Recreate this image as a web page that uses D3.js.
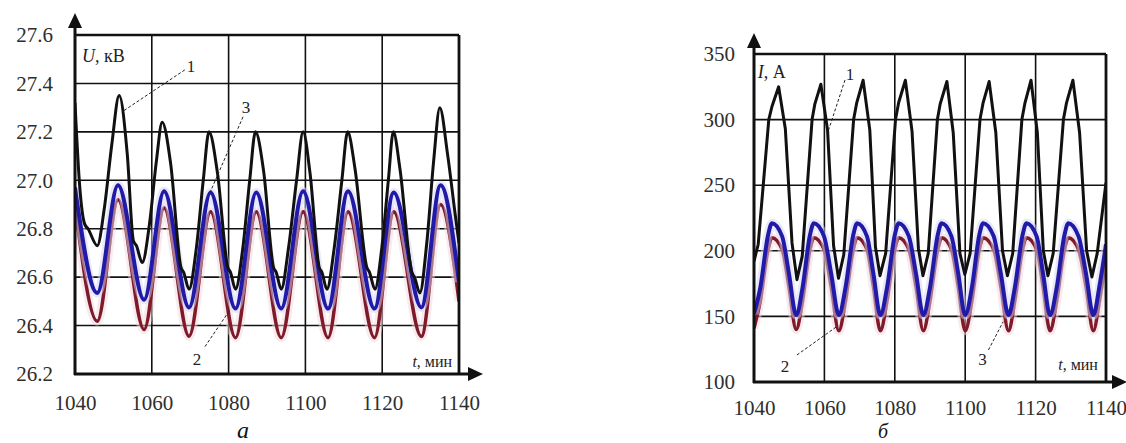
<!DOCTYPE html>
<html>
<head>
<meta charset="utf-8">
<script src="https://cdn.jsdelivr.net/npm/d3@7"></script>
<style>
body { margin: 0; background: #fff; }
svg { display: block; }
svg text { font-family: "Liberation Serif", "Times New Roman", serif; }
</style>
</head>
<body>
<svg id="chart" width="1126" height="443"></svg>
<script>
// tick values
var timeTicks = [1040, 1060, 1080, 1100, 1120, 1140]
var voltageTicks = [26.2, 26.4, 26.6, 26.8, 27.0, 27.2, 27.4, 27.6]
var currentTicks = [100, 150, 200, 250, 300, 350]

// voltage U, kV (left) - curve 1 black
var voltageBlack = [
  [1040, 27.32], [1041.2, 26.98], [1042.5, 26.82], [1043.4, 26.80], [1045.8, 26.73],
  [1047.6, 26.88], [1049.6, 27.15], [1051.5, 27.35], [1053.6, 27.11], [1055.2, 26.75],
  [1056, 26.73], [1057.5, 26.66], [1059.4, 26.82], [1061.2, 27.08], [1062.7, 27.24],
  [1064.9, 27.07], [1067.6, 26.64], [1068.3, 26.62], [1069.7, 26.55], [1071.6, 26.72],
  [1073.4, 27.0], [1074.9, 27.2], [1077.1, 27.03], [1079.8, 26.64], [1080.5, 26.62],
  [1081.8, 26.55], [1083.7, 26.72], [1085.5, 27.0], [1087, 27.2], [1089.1, 27.04],
  [1091.7, 26.64], [1092.4, 26.62], [1093.7, 26.55], [1095.6, 26.72], [1097.7, 27.0],
  [1099.4, 27.2], [1101.2, 27.03], [1103.6, 26.64], [1104.3, 26.62], [1105.6, 26.55],
  [1107.5, 26.72], [1109.5, 27.0], [1111, 27.2], [1112.9, 27.05], [1116, 26.64],
  [1116.7, 26.62], [1118.1, 26.55], [1119.9, 26.72], [1121.6, 27.0], [1122.9, 27.2],
  [1124.6, 27.05], [1127.7, 26.62], [1128.4, 26.6], [1129.8, 26.535], [1131.6, 26.74],
  [1133.4, 27.08], [1135, 27.3], [1137, 27.11], [1139, 26.86], [1140, 26.74]
]
// blue curve
var voltageBlue = [
  [1040, 26.97], [1045.8, 26.535], [1051.2, 26.98], [1058, 26.507], [1063.2, 26.955],
  [1069.7, 26.475], [1075.3, 26.95], [1081.8, 26.47], [1087.2, 26.95], [1093.7, 26.47],
  [1099.4, 26.955], [1105.9, 26.47], [1111.1, 26.955], [1118, 26.47], [1123, 26.95],
  [1130.2, 26.475], [1135.2, 26.98], [1140, 26.58]
]
// dark red curve
var voltageRed = [
  [1040, 26.9], [1045.8, 26.418], [1051.2, 26.92], [1058, 26.384], [1063.2, 26.886],
  [1069.7, 26.356], [1075.3, 26.87], [1081.8, 26.35], [1087.2, 26.87], [1093.7, 26.35],
  [1099.4, 26.87], [1105.9, 26.35], [1111.1, 26.87], [1118, 26.35], [1123, 26.87],
  [1130.2, 26.355], [1135.2, 26.9], [1140, 26.5]
]

// current I, A (right) - curve 1 black
var currentBlack = [
  [1040, 192], [1041.2, 205], [1044.2, 300], [1045.1, 310], [1047, 325],
  [1048.9, 293], [1050.8, 206], [1052.2, 178], [1053.7, 196], [1056.5, 300],
  [1057.3, 312], [1059, 327], [1060.9, 292], [1062.6, 204], [1064, 179],
  [1065.5, 197], [1068.3, 300], [1069.2, 313], [1071, 330], [1072.9, 292],
  [1074.5, 203], [1075.8, 181], [1077.4, 198], [1080.2, 300], [1081.1, 313],
  [1083, 330], [1084.9, 291], [1086.7, 202], [1088, 181], [1089.5, 198],
  [1092.1, 300], [1092.9, 312], [1094.8, 329], [1096.6, 290], [1098.5, 198],
  [1099.9, 182], [1101.4, 198], [1104.2, 300], [1105.1, 313], [1106.8, 329],
  [1108.7, 290], [1110.6, 200], [1112, 181], [1113.5, 198], [1116.1, 300],
  [1117, 313], [1118.7, 330], [1120.5, 290], [1122.2, 200], [1123.5, 181],
  [1125, 198], [1127.9, 300], [1128.8, 313], [1130.6, 330], [1132.5, 290],
  [1134.5, 200], [1136, 180], [1137.5, 198], [1140, 252]
]
var currentBlue = [
  [1040, 152], [1041.8, 172], [1044, 212], [1045.1, 221], [1048, 211], [1049.9, 183],
  [1052, 151], [1053.8, 172], [1055.9, 212], [1057, 221], [1059.9, 211], [1061.9, 183],
  [1064.1, 151], [1066, 172], [1068.2, 212], [1069.3, 221], [1072.1, 211], [1073.9, 183],
  [1075.9, 151], [1077.8, 172], [1080, 212], [1081.1, 221], [1084, 211], [1086, 183],
  [1088.1, 151], [1090, 172], [1092.2, 212], [1093.3, 221], [1096.1, 211], [1098, 183],
  [1100, 151], [1101.9, 172], [1104, 212], [1105.1, 221], [1108.1, 211], [1110.1, 183],
  [1112.3, 151], [1114.1, 172], [1116.3, 212], [1117.4, 221], [1120.3, 211], [1122.1, 183],
  [1124.1, 151], [1126, 172], [1128.2, 212], [1129.3, 221], [1132.2, 211], [1134.3, 183],
  [1136.4, 151], [1138.2, 174], [1140, 205]
]
var currentRed = [
  [1040, 141], [1041.8, 162], [1044, 201], [1045.1, 210], [1048, 201], [1049.9, 173],
  [1052, 140], [1053.8, 162], [1055.9, 201], [1057, 210], [1059.9, 201], [1061.9, 173],
  [1064.1, 139], [1066, 162], [1068.2, 201], [1069.3, 210], [1072.1, 201], [1073.9, 173],
  [1075.9, 139], [1077.8, 162], [1080, 201], [1081.1, 210], [1084, 201], [1086, 173],
  [1088.1, 139], [1090, 162], [1092.2, 201], [1093.3, 210], [1096.1, 201], [1098, 173],
  [1100, 139], [1101.9, 162], [1104, 201], [1105.1, 210], [1108.1, 201], [1110.1, 173],
  [1112.3, 139], [1114.1, 162], [1116.3, 201], [1117.4, 210], [1120.3, 201], [1122.1, 173],
  [1124.1, 139], [1126, 162], [1128.2, 201], [1129.3, 210], [1132.2, 201], [1134.3, 173],
  [1136.4, 139], [1138.2, 163], [1140, 194]
]

var svg = d3.select("#chart")
svg.append("rect").attr("width", 1126).attr("height", 443).attr("fill", "#fff")

function drawPanel(o) {
    var x = d3.scaleLinear().domain([1040, 1140]).range(o.xRange)
    var y = d3.scaleLinear().domain(o.yDomain).range(o.yRange)
    var g = svg.append("g")
    var x0 = o.xRange[0], x1 = o.xRange[1], y0 = o.yRange[0], y1 = o.yRange[1]

    g.append("clipPath").attr("id", o.id + "-clip")
     .append("rect").attr("x", x0).attr("y", y1).attr("width", x1 - x0).attr("height", y0 - y1)

    // grid
    g.selectAll(".vgrid").data(timeTicks.slice(1, -1)).join("line")
     .attr("x1", d => x(d)).attr("x2", d => x(d))
     .attr("y1", y0).attr("y2", y1)
     .attr("stroke", "#111").attr("stroke-width", 1.6)
    g.selectAll(".hgrid").data(o.yTicks.slice(1, -1)).join("line")
     .attr("x1", x0).attr("x2", x1)
     .attr("y1", d => y(d)).attr("y2", d => y(d))
     .attr("stroke", "#111").attr("stroke-width", 1.6)

    // curves
    var lines = g.append("g").attr("clip-path", "url(#" + o.id + "-clip)")
    o.series.forEach(function(s) {
        var lineGen = d3.line()
            .x(d => x(d[0]))
            .y(d => y(d[1]))
            .curve(s.curve)
        if (s.halo) {
            lines.append("path").attr("d", lineGen(s.data))
                .attr("fill", "none").attr("stroke", s.halo)
                .attr("stroke-width", 9).attr("opacity", 0.5)
        }
        lines.append("path").attr("d", lineGen(s.data))
            .attr("fill", "none").attr("stroke", s.color)
            .attr("stroke-width", s.width).attr("stroke-linejoin", "round")
    })

    // frame and axes with arrows
    g.append("line").attr("x1", x0).attr("x2", x1).attr("y1", y1).attr("y2", y1)
     .attr("stroke", "#111").attr("stroke-width", 2.6)
    g.append("line").attr("x1", x1).attr("x2", x1).attr("y1", y1).attr("y2", y0)
     .attr("stroke", "#111").attr("stroke-width", 2.8)
    g.append("line").attr("x1", x0).attr("x2", x0).attr("y1", y0 + 1).attr("y2", o.arrowTop + 10)
     .attr("stroke", "#111").attr("stroke-width", 3)
    g.append("line").attr("x1", x0 - 1).attr("x2", o.arrowRight - 10).attr("y1", y0).attr("y2", y0)
     .attr("stroke", "#111").attr("stroke-width", 3)
    g.append("path")
     .attr("d", `M${x0},${o.arrowTop} L${x0 - 7},${o.arrowTop + 15} L${x0 + 7},${o.arrowTop + 15} Z`)
     .attr("fill", "#111")
    g.append("path")
     .attr("d", `M${o.arrowRight},${y0} L${o.arrowRight - 15},${y0 - 7} L${o.arrowRight - 15},${y0 + 7} Z`)
     .attr("fill", "#111")

    // tick labels
    var yAxis = g.append("g")
        .attr("transform", `translate(${x0},0)`)
        .call(d3.axisLeft(y).tickValues(o.yTicks).tickFormat(o.yFormat).tickSize(0).tickPadding(o.yPad))
    var xAxis = g.append("g")
        .attr("transform", `translate(0,${y0})`)
        .call(d3.axisBottom(x).tickValues(timeTicks).tickFormat(d3.format("d")).tickSize(0).tickPadding(o.xPad))
    ;[yAxis, xAxis].forEach(function(a) {
        a.select(".domain").remove()
        a.attr("font-family", null).attr("font-size", null)
        a.selectAll("text").style("font-size", "21px").attr("fill", "#2e2e2e")
    })

    // axis titles
    var yt = g.append("text").attr("x", x(o.yTitle[0])).attr("y", y(o.yTitle[1]))
        .style("font-size", "18px").attr("fill", "#222")
    yt.append("tspan").attr("font-style", "italic").text(o.yTitle[2])
    yt.append("tspan").text(o.yTitle[3])

    var xt = g.append("text").attr("x", x(o.xTitle[0])).attr("y", y(o.xTitle[1]))
        .style("font-size", "16px").attr("fill", "#222").attr("text-anchor", "end")
    xt.append("tspan").attr("font-style", "italic").text("t")
    xt.append("tspan").text(", мин")

    // curve numbers with dashed leaders
    o.notes.forEach(function(n) {
        g.append("line")
         .attr("x1", x(n.from[0])).attr("y1", y(n.from[1]))
         .attr("x2", x(n.to[0])).attr("y2", y(n.to[1]))
         .attr("stroke", "#222").attr("stroke-width", 1).attr("stroke-dasharray", "3,2")
        g.append("text").attr("x", x(n.at[0])).attr("y", y(n.at[1]))
         .attr("text-anchor", "middle").style("font-size", "17px").attr("fill", "#222")
         .text(n.label)
    })

    g.append("text").attr("x", o.caption[0]).attr("y", o.caption[1])
     .attr("text-anchor", "middle").style("font-size", o.caption[3] + "px").attr("font-style", "italic")
     .attr("fill", "#111").text(o.caption[2])
}

drawPanel({
    id: "u",
    xRange: [75, 459],
    yRange: [374, 35],
    yDomain: [26.2, 27.6],
    yTicks: voltageTicks,
    yFormat: d3.format(".1f"),
    yPad: 22,
    xPad: 21,
    arrowTop: 13,
    arrowRight: 483,
    series: [
        { data: voltageRed, color: "#7e1a2a", width: 3.5, halo: "#f2d6dc", curve: d3.curveMonotoneX },
        { data: voltageBlue, color: "#2119a8", width: 4, halo: "#d4d6f4", curve: d3.curveMonotoneX },
        { data: voltageBlack, color: "#111", width: 3, curve: d3.curveMonotoneX }
    ],
    yTitle: [1041.8, 27.49, "U", ", кВ"],
    xTitle: [1138.2, 26.227],
    notes: [
        { label: "1", at: [1070.2, 27.447], from: [1068.6, 27.456], to: [1052.2, 27.282] },
        { label: "3", at: [1084.5, 27.278], from: [1083.75, 27.262], to: [1074.9, 26.94] },
        { label: "2", at: [1071.8, 26.239], from: [1073.85, 26.313], to: [1080.4, 26.466] }
    ],
    caption: [243, 438, "а", 24]
})

drawPanel({
    id: "i",
    xRange: [754, 1106],
    yRange: [382, 54],
    yDomain: [100, 350],
    yTicks: currentTicks,
    yFormat: d3.format("d"),
    yPad: 19,
    xPad: 18,
    arrowTop: 33,
    arrowRight: 1127,
    series: [
        { data: currentRed, color: "#7e1a2a", width: 3.5, halo: "#f2d6dc", curve: d3.curveMonotoneX },
        { data: currentBlue, color: "#2119a8", width: 4, halo: "#d4d6f4", curve: d3.curveMonotoneX },
        { data: currentBlack, color: "#111", width: 3, curve: d3.curveLinear }
    ],
    yTitle: [1041.1, 331.7, "I", ", А"],
    xTitle: [1137.7, 109],
    notes: [
        { label: "1", at: [1067.3, 330.2], from: [1065.85, 330.2], to: [1061, 290.5] },
        { label: "2", at: [1048.8, 107.6], from: [1052.2, 120.6], to: [1063.5, 142.2] },
        { label: "3", at: [1104.9, 112.96], from: [1106.6, 124.4], to: [1110.8, 146] }
    ],
    caption: [883, 438, "б", 20]
})
</script>
</body>
</html>
